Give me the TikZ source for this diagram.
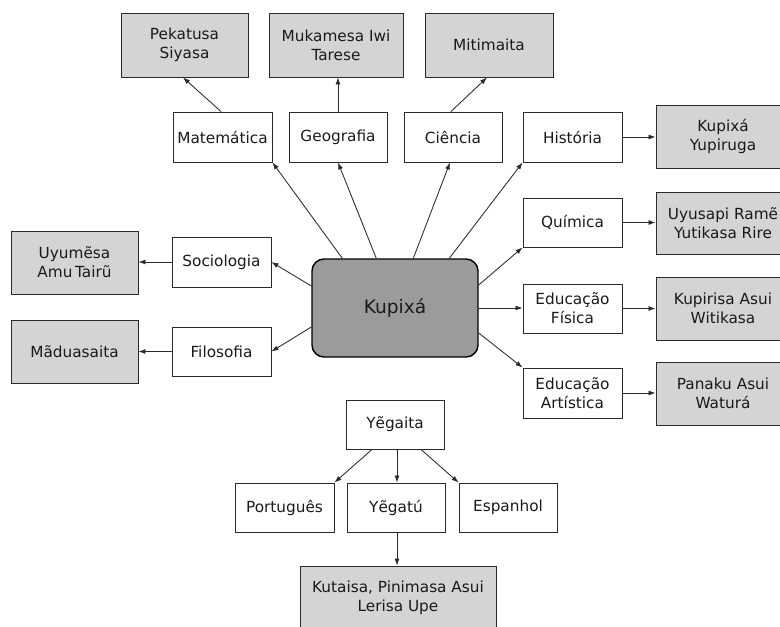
\documentclass[tikz,border=0pt]{standalone}
\usepackage{fontspec}
\setmainfont{DejaVu Sans}
\usetikzlibrary{arrows.meta,calc}
\definecolor{gfill}{HTML}{D4D4D4}
\definecolor{cfill}{HTML}{9B9B9B}
\definecolor{edge}{HTML}{2A2A2A}
\definecolor{txt}{HTML}{1A1A1A}
\tikzset{
  base/.style={draw=edge, line width=0.9pt, align=center, inner sep=0pt, text=txt,
    font=\fontsize{15.3}{19}\selectfont},
  wbox/.style={base, fill=white},
  gbox/.style={base, fill=gfill},
  cbox/.style={draw=black, line width=1.4pt, fill=cfill, rounded corners=12pt,
    inner sep=0pt, text=txt, font=\fontsize{18.6}{22}\selectfont,
    minimum width=166pt, minimum height=98pt},
  arr/.style={draw=edge, line width=0.85pt, -{Latex[length=7pt,width=5pt]}}
}
\begin{document}
\begin{tikzpicture}[x=1pt,y=-1pt]
\clip (0,0) rectangle (780,627);
\fill[white] (0,0) rectangle (780,627);
% center
\node[cbox] (kpx) at (395,308) {Kupixá};
% top gray
\node[gbox, minimum width=127pt, minimum height=64pt] (pek) at (184.5,45) {Pekatusa\\Siyasa};
\node[gbox, minimum width=134pt, minimum height=64pt] (muk) at (336,45) {Mukamesa Iwi\\Tarese};
\node[gbox, minimum width=128pt, minimum height=64pt] (mit) at (489,45) {Mitimaita};
% top white
\node[wbox, minimum width=99pt, minimum height=50pt] (mat) at (222.5,137) {Matemática};
\node[wbox, minimum width=98pt, minimum height=50pt] (geo) at (338,137) {Geografia};
\node[wbox, minimum width=98pt, minimum height=50pt] (cie) at (453,137) {Ciência};
\node[wbox, minimum width=99pt, minimum height=50pt] (his) at (572.5,137) {História};
% right white
\node[wbox, minimum width=99pt, minimum height=49pt] (qui) at (572.5,222.5) {Química};
\node[wbox, minimum width=99pt, minimum height=49pt] (edf) at (572.5,308.5) {Educação\\Física};
\node[wbox, minimum width=99pt, minimum height=50pt] (eda) at (572.5,393) {Educação\\Artística};
% right gray
\node[gbox, minimum width=134pt, minimum height=63pt] (kyu) at (723,136.5) {Kupixá\\Yupiruga};
\node[gbox, minimum width=134pt, minimum height=62pt] (uyu) at (723,223) {Uyusapi Ramẽ\\Yutikasa Rire};
\node[gbox, minimum width=134pt, minimum height=63pt] (kup) at (723,308.5) {Kupirisa Asui\\Witikasa};
\node[gbox, minimum width=134pt, minimum height=63pt] (pan) at (723,393.5) {Panaku Asui\\Waturá};
% left
\node[gbox, minimum width=127pt, minimum height=63pt] (uym) at (74.5,262.5) {Uyumẽsa\\Amu\,Tairũ};
\node[wbox, minimum width=99pt, minimum height=50pt] (soc) at (221.5,262) {Sociologia};
\node[gbox, minimum width=127pt, minimum height=63pt] (mad) at (74.5,351.5) {Mãduasaita};
\node[wbox, minimum width=99pt, minimum height=49pt] (fil) at (221.5,351.5) {Filosofia};
% bottom
\node[wbox, minimum width=98pt, minimum height=49pt] (yga) at (395,424.5) {Yẽgaita};
\node[wbox, minimum width=99pt, minimum height=49pt] (por) at (284.5,507.5) {Português};
\node[wbox, minimum width=98pt, minimum height=49pt] (ygt) at (396,507.5) {Yẽgatú};
\node[wbox, minimum width=98pt, minimum height=49pt] (esp) at (508,507.5) {Espanhol};
\node[gbox, minimum width=196pt, minimum height=64pt] (kut) at (398,598) {Kutaisa, Pinimasa Asui\\Lerisa Upe};
% arrows from center
\draw[arr] ([xshift=31pt]kpx.north west) -- (mat.south east);
\draw[arr] ([xshift=65pt]kpx.north west) -- (geo.south);
\draw[arr] ([xshift=102pt]kpx.north west) -- ([xshift=-3pt]cie.south);
\draw[arr] ([xshift=138pt]kpx.north west) -- (his.south west);
\draw[arr] ([yshift=22pt]kpx.west) -- (soc.east);
\draw[arr] ([yshift=-19pt]kpx.west) -- (fil.east);
\draw[arr] ([yshift=23pt]kpx.east) -- (qui.south west);
\draw[arr] (kpx.east) -- (kpx.east -| edf.west);
\draw[arr] ([yshift=-25pt]kpx.east) -- (eda.north west);
% top
\draw[arr] ([xshift=-1.5pt]mat.north) -- ([xshift=-1.5pt]pek.south);
\draw[arr] (geo.north) -- (geo.north |- muk.south);
\draw[arr] ([xshift=-2pt]cie.north) -- ([xshift=-2pt]mit.south);
% right
\draw[arr] (his.east) -- (his.east -| kyu.west);
\draw[arr] (qui.east) -- (qui.east -| uyu.west);
\draw[arr] (edf.east) -- (edf.east -| kup.west);
\draw[arr] (eda.east) -- (eda.east -| pan.west);
% left
\draw[arr] (soc.west) -- (soc.west -| uym.east);
\draw[arr] (fil.west) -- (fil.west -| mad.east);
% bottom
\draw[arr] ([xshift=-23pt]yga.south) -- (por.north east);
\draw[arr] ([xshift=2pt]yga.south) -- ([xshift=2pt]yga.south |- ygt.north);
\draw[arr] ([xshift=26pt]yga.south) -- (esp.north west);
\draw[arr] ([xshift=1pt]ygt.south) -- ([xshift=1pt]ygt.south |- kut.north);
\end{tikzpicture}
\end{document}
